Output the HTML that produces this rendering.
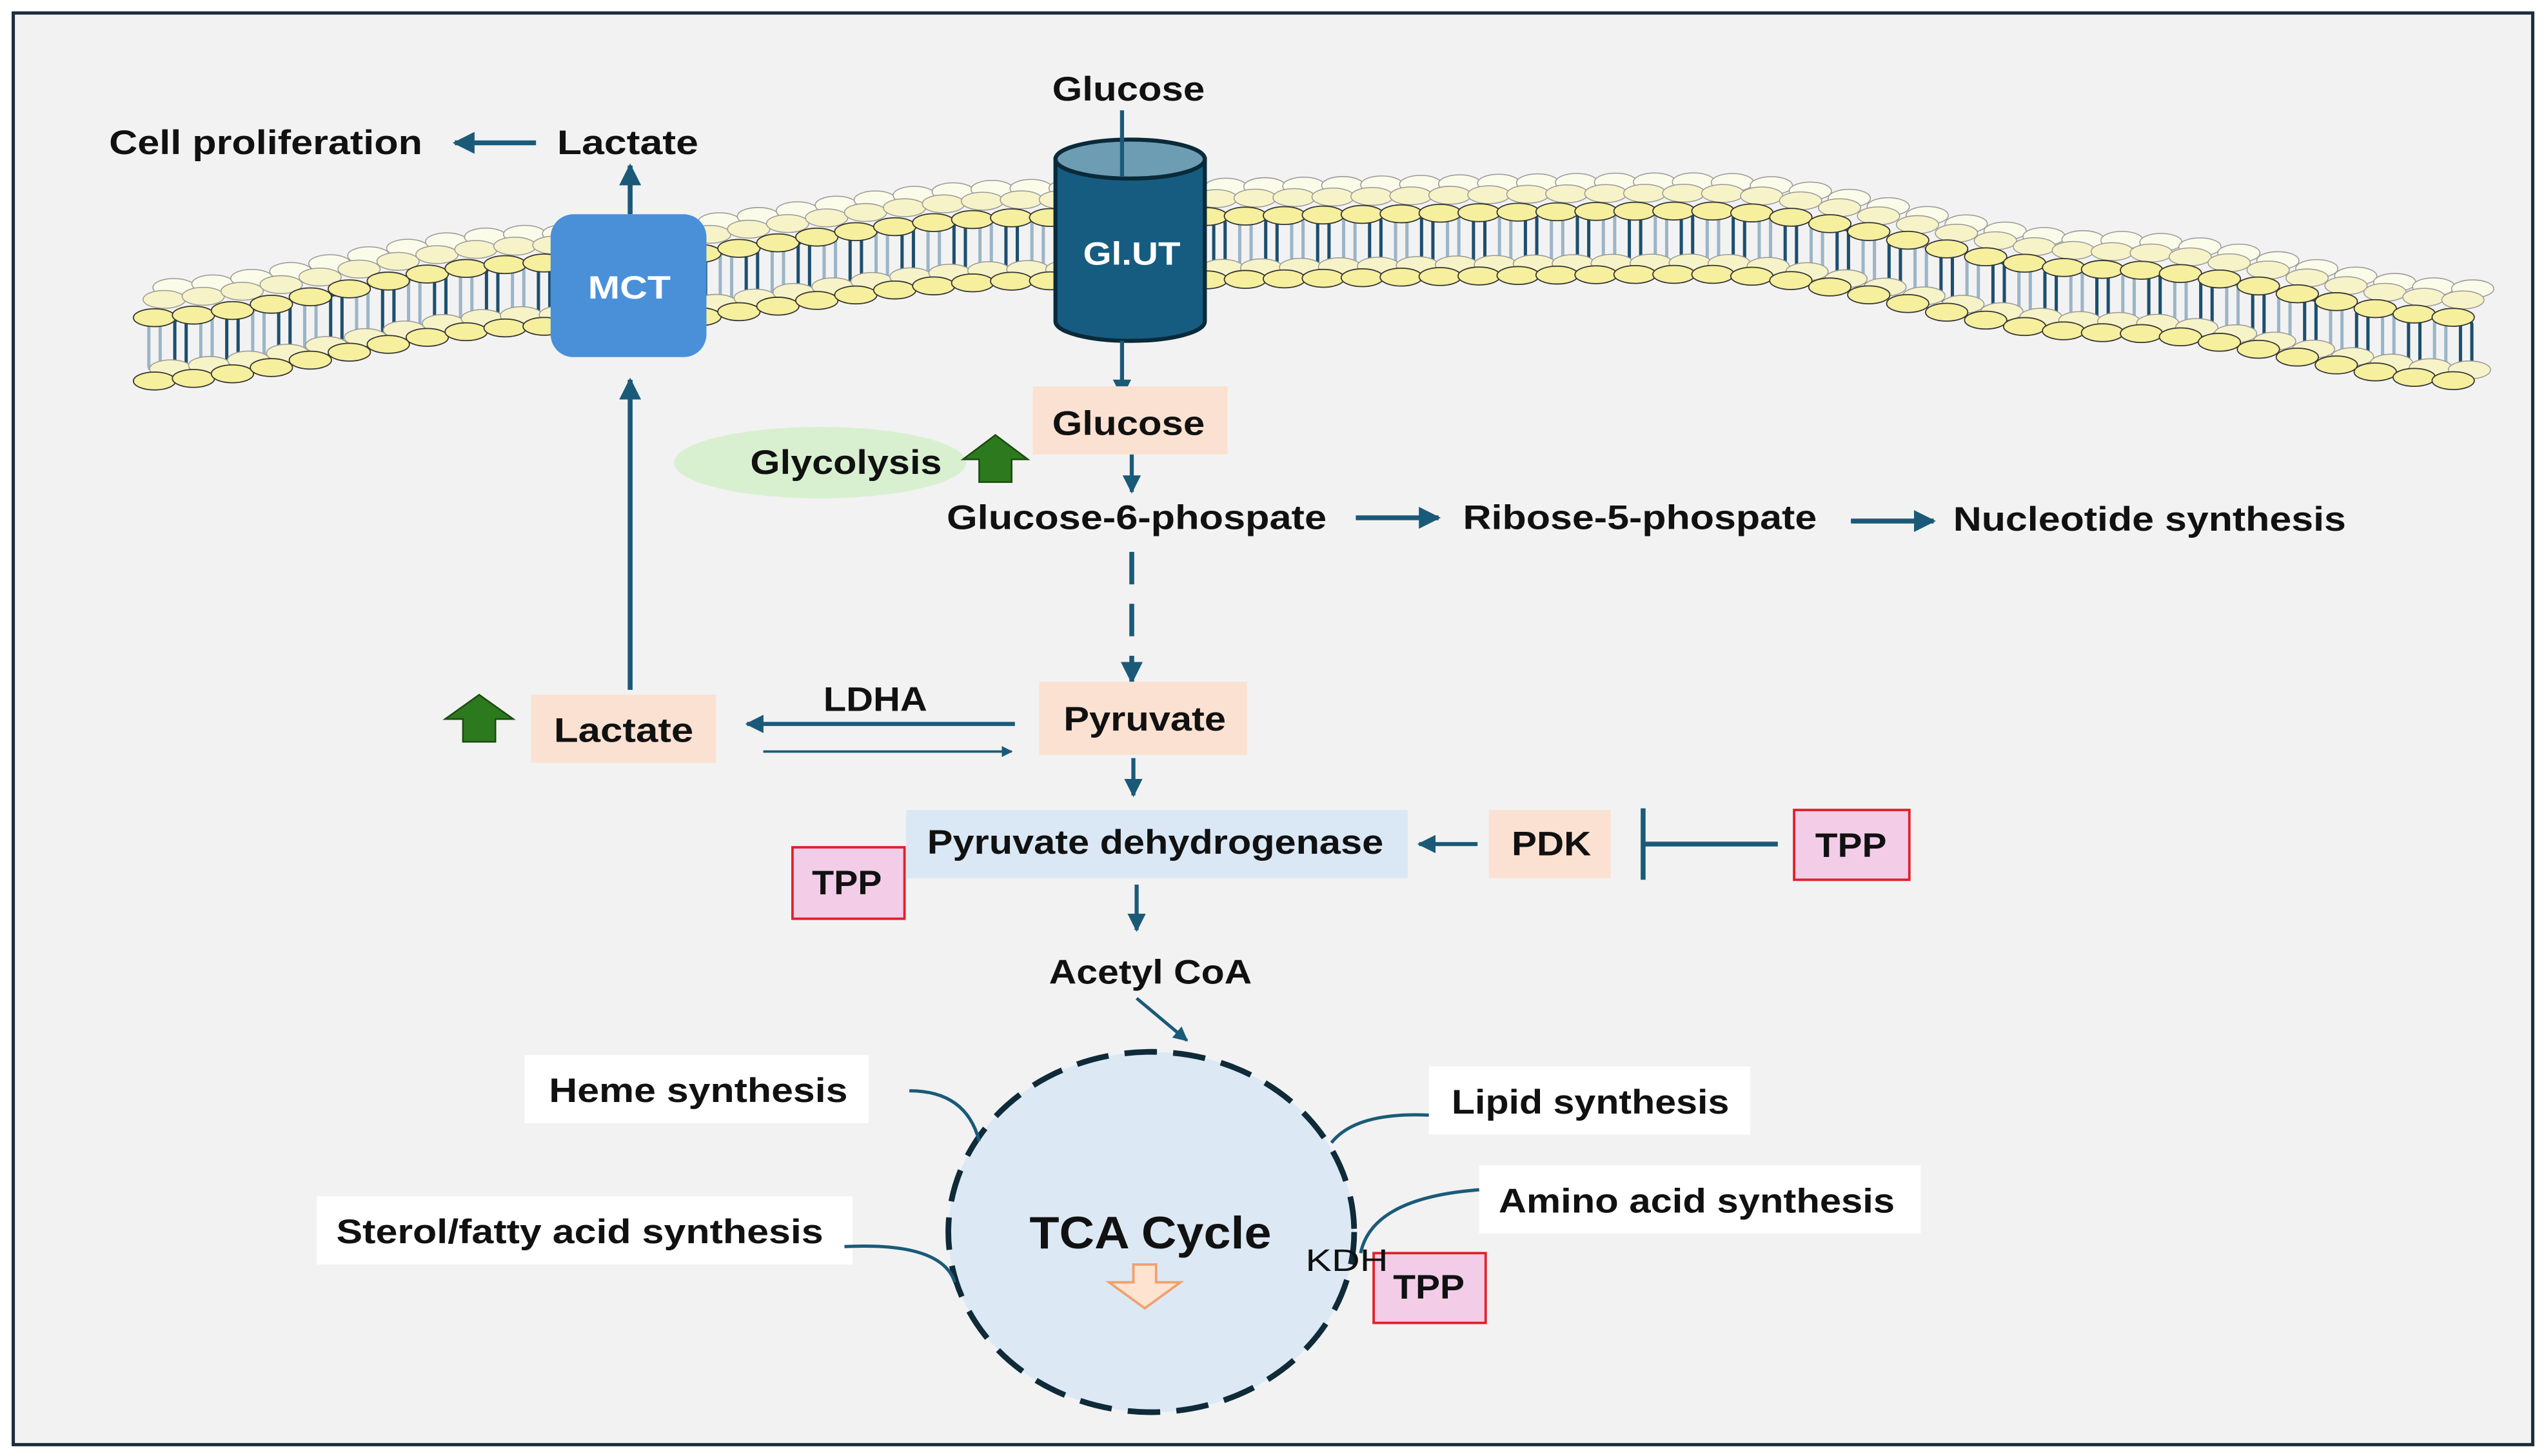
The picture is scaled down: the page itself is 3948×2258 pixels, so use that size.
<!DOCTYPE html>
<html><head><meta charset="utf-8"><style>
html,body{margin:0;padding:0;background:#fff;}
svg{display:block;}
text{font-family:"Liberation Sans",sans-serif;font-weight:bold;fill:#111;}
</style></head><body>
<svg id="s" width="3948" height="2258" viewBox="0 0 1568 897" xmlns="http://www.w3.org/2000/svg">
<defs>
<marker id="a" viewBox="0 0 10 10" refX="9" refY="5" markerWidth="4.5" markerHeight="4.5" orient="auto"><path d="M0,0 L10,5 L0,10 z" fill="#1a5a78"/></marker>
</defs>
<rect x="0" y="0" width="1568" height="897" fill="#fff"/>
<rect x="8" y="8" width="1552" height="882" fill="#f2f2f2" stroke="#1c2c3c" stroke-width="2"/>
<g id="mem"></g>

<text x="67" y="95" font-size="21" textLength="193" lengthAdjust="spacingAndGlyphs">Cell proliferation</text>
<line x1="330" y1="88" x2="280" y2="88" stroke="#1a5a78" stroke-width="3" marker-end="url(#a)"/>
<text x="343" y="95" font-size="21" textLength="87" lengthAdjust="spacingAndGlyphs">Lactate</text>
<line x1="388" y1="132" x2="388" y2="102" stroke="#1a5a78" stroke-width="3" marker-end="url(#a)"/>
<rect x="339" y="132" width="96" height="88" rx="14" fill="#4a90d9"/>
<text x="362" y="184" font-size="20" textLength="51" lengthAdjust="spacingAndGlyphs" style="fill:#fff">MCT</text>

<line x1="388" y1="425" x2="388" y2="234" stroke="#1a5a78" stroke-width="3" marker-end="url(#a)"/>

<text x="648" y="62" font-size="21" textLength="94" lengthAdjust="spacingAndGlyphs">Glucose</text>
<path d="M650,98 L650,198 A46,12 0 0 0 742,198 L742,98 Z" fill="#165c80" stroke="#0a2a3a" stroke-width="2.5"/>
<ellipse cx="696" cy="98" rx="46" ry="12" fill="#6d9db3" stroke="#0a2a3a" stroke-width="2.5"/>
<line x1="691" y1="68" x2="691" y2="109" stroke="#1a5a78" stroke-width="2.5"/>
<text x="667" y="163" font-size="20" textLength="60" lengthAdjust="spacingAndGlyphs" style="fill:#fff">Gl.UT</text>
<line x1="691" y1="210" x2="691" y2="244" stroke="#1a5a78" stroke-width="2.5" marker-end="url(#a)"/>

<rect x="636" y="238" width="120" height="42" fill="#fbe1d1"/>
<text x="648" y="268" font-size="21" textLength="94" lengthAdjust="spacingAndGlyphs">Glucose</text>
<ellipse cx="505" cy="285" rx="90" ry="22" fill="#d8f0d0"/>
<text x="462" y="292" font-size="21" textLength="118" lengthAdjust="spacingAndGlyphs">Glycolysis</text>
<path d="M613,268 L633,283 L623,283 L623,297 L603,297 L603,283 L593,283 Z" fill="#2d7a1e" stroke="#1a4a10" stroke-width="1"/>
<line x1="697" y1="280" x2="697" y2="303" stroke="#1a5a78" stroke-width="2.5" marker-end="url(#a)"/>

<text x="583" y="326" font-size="21" textLength="234" lengthAdjust="spacingAndGlyphs">Glucose-6-phospate</text>
<line x1="835" y1="319" x2="886" y2="319" stroke="#1a5a78" stroke-width="3" marker-end="url(#a)"/>
<text x="901" y="326" font-size="21" textLength="218" lengthAdjust="spacingAndGlyphs">Ribose-5-phospate</text>
<line x1="1140" y1="321" x2="1191" y2="321" stroke="#1a5a78" stroke-width="3" marker-end="url(#a)"/>
<text x="1203" y="327" font-size="21" textLength="242" lengthAdjust="spacingAndGlyphs">Nucleotide synthesis</text>

<line x1="697" y1="340" x2="697" y2="420" stroke="#1a5a78" stroke-width="3" stroke-dasharray="20,12" marker-end="url(#a)"/>
<rect x="640" y="420" width="128" height="45" fill="#fbe1d1"/>
<text x="655" y="450" font-size="21" textLength="100" lengthAdjust="spacingAndGlyphs">Pyruvate</text>
<rect x="327" y="428" width="114" height="42" fill="#fbe1d1"/>
<text x="341" y="457" font-size="21" textLength="86" lengthAdjust="spacingAndGlyphs">Lactate</text>
<path d="M295,428 L316,443 L305,443 L305,457 L285,457 L285,443 L274,443 Z" fill="#2d7a1e" stroke="#1a4a10" stroke-width="1"/>
<text x="507" y="438" font-size="21" textLength="64" lengthAdjust="spacingAndGlyphs">LDHA</text>
<line x1="625" y1="446" x2="460" y2="446" stroke="#1a5a78" stroke-width="2.5" marker-end="url(#a)"/>
<line x1="470" y1="463" x2="623" y2="463" stroke="#1a5a78" stroke-width="1.5" marker-end="url(#a)"/>
<line x1="698" y1="467" x2="698" y2="490" stroke="#1a5a78" stroke-width="2.5" marker-end="url(#a)"/>

<rect x="558" y="499" width="309" height="42" fill="#dae8f5"/>
<text x="571" y="526" font-size="21" textLength="281" lengthAdjust="spacingAndGlyphs">Pyruvate dehydrogenase</text>
<rect x="488" y="522" width="69" height="44" fill="#f3cde8" stroke="#e0202a" stroke-width="1.5"/>
<text x="500" y="551" font-size="21" textLength="43" lengthAdjust="spacingAndGlyphs">TPP</text>
<line x1="910" y1="520" x2="874" y2="520" stroke="#1a5a78" stroke-width="2.5" marker-end="url(#a)"/>
<rect x="917" y="499" width="75" height="42" fill="#fbe1d1"/>
<text x="931" y="527" font-size="21" textLength="49" lengthAdjust="spacingAndGlyphs">PDK</text>
<line x1="1012" y1="520" x2="1095" y2="520" stroke="#1a5a78" stroke-width="3"/>
<line x1="1012" y1="498" x2="1012" y2="542" stroke="#1a5a78" stroke-width="3"/>
<rect x="1105" y="499" width="71" height="43" fill="#f3cde8" stroke="#e0202a" stroke-width="1.5"/>
<text x="1118" y="528" font-size="21" textLength="44" lengthAdjust="spacingAndGlyphs">TPP</text>
<line x1="700" y1="545" x2="700" y2="573" stroke="#1a5a78" stroke-width="2.5" marker-end="url(#a)"/>
<text x="646" y="606" font-size="21" textLength="125" lengthAdjust="spacingAndGlyphs">Acetyl CoA</text>
<line x1="700" y1="615" x2="731" y2="641" stroke="#1a5a78" stroke-width="2" marker-end="url(#a)"/>

<ellipse cx="709" cy="759" rx="125" ry="111" fill="#dce9f5" stroke="#0f2a38" stroke-width="3.5" stroke-dasharray="20,10"/>
<text x="634" y="769" font-size="28" textLength="149" lengthAdjust="spacingAndGlyphs">TCA Cycle</text>
<path d="M698,779 L712,779 L712,790 L727,790 L705,806 L683,790 L698,790 Z" fill="#fde3d0" stroke="#f0a070" stroke-width="1.5"/>

<rect x="323" y="650" width="212" height="42" fill="#fff"/>
<text x="338" y="679" font-size="21" textLength="184" lengthAdjust="spacingAndGlyphs">Heme synthesis</text>
<rect x="195" y="737" width="330" height="42" fill="#fff"/>
<text x="207" y="766" font-size="21" textLength="300" lengthAdjust="spacingAndGlyphs">Sterol/fatty acid synthesis</text>
<rect x="880" y="657" width="198" height="42" fill="#fff"/>
<text x="894" y="686" font-size="21" textLength="171" lengthAdjust="spacingAndGlyphs">Lipid synthesis</text>
<rect x="911" y="718" width="272" height="42" fill="#fff"/>
<text x="923" y="747" font-size="21" textLength="244" lengthAdjust="spacingAndGlyphs">Amino acid synthesis</text>
<g fill="none" stroke="#1a5a78" stroke-width="2">
<path d="M560,672 Q595,672 603,703"/>
<path d="M520,768 Q580,765 588,790"/>
<path d="M820,704 Q835,685 880,687"/>
<path d="M838,772 Q845,738 911,733"/>
</g>
<rect x="846" y="772" width="69" height="43" fill="#f3cde8" stroke="#e0202a" stroke-width="1.5"/>
<text x="858" y="800" font-size="21" textLength="44" lengthAdjust="spacingAndGlyphs">TPP</text>
<text x="804" y="783" font-size="19" textLength="51" lengthAdjust="spacingAndGlyphs" style="font-weight:normal">KDH</text>
</svg>
<script>
(function(){
var g=document.getElementById('mem');var ns='http://www.w3.org/2000/svg';
var pts=[[80,214],[340,180],[640,152],[1050,148],[1300,184],[1530,214]];
function cy(x){for(var i=0;i<pts.length-1;i++){var a=pts[i],b=pts[i+1];if(x<=b[0]){var t=(x-a[0])/(b[0]-a[0]);t=(1-Math.cos(t*Math.PI))/2;return a[1]+(b[1]-a[1])*t;}}return pts[pts.length-1][1];}
function el(tag,at){var e=document.createElementNS(ns,tag);for(var k in at)e.setAttribute(k,at[k]);g.appendChild(e);return e;}
var step=24;
for(var r=2;r>=1;r--){for(var x=95+r*6;x<1525;x+=step){var y=cy(x)-22-r*7;el('ellipse',{cx:x,cy:y,rx:13,ry:5.5,fill:r==2?'#fbfbea':'#f7f3c8',stroke:'#999',"stroke-width":0.6});}}
for(var x=95;x<1525;x+=step/1.5){var y=cy(x);el('rect',{x:x-3.5,y:y-16,width:7,height:30,rx:2,fill:'none',stroke:(Math.round(x/16)%2?'#1d4f6e':'#9bb5c8'),"stroke-width":2});}
for(var x=105;x<1525;x+=step){var y=cy(x)+14;el('ellipse',{cx:x,cy:y,rx:13,ry:5.5,fill:'#f7f3c8',stroke:'#999',"stroke-width":0.6});}
for(var x=95;x<1525;x+=step){var y=cy(x)-18;el('ellipse',{cx:x,cy:y,rx:13,ry:5.5,fill:'#f5ef9e',stroke:'#333',"stroke-width":0.7});}
for(var x=95;x<1525;x+=step){var y=cy(x)+21;el('ellipse',{cx:x,cy:y,rx:13,ry:5.5,fill:'#f5ef9e',stroke:'#333',"stroke-width":0.7});}
})();
</script>
</body></html>
